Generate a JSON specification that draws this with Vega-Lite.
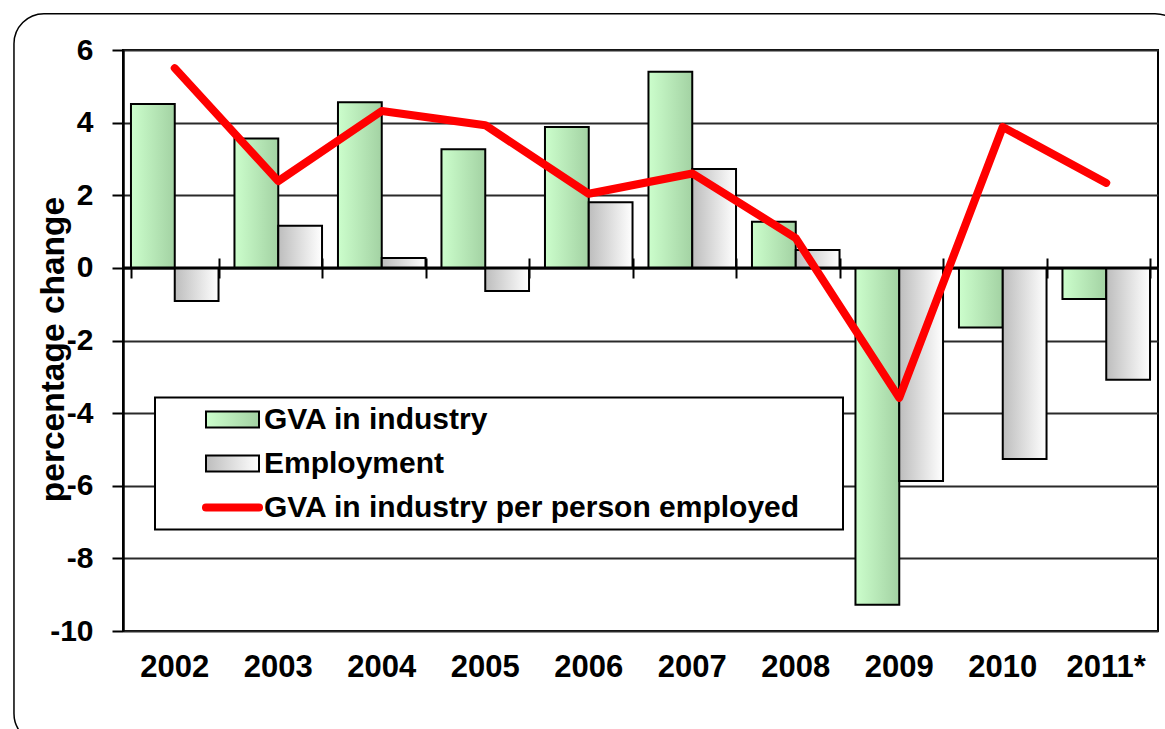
{
  "$schema": "https://vega.github.io/schema/vega-lite/v6.json",
  "width": 1035,
  "height": 581,
  "autosize": {"type": "none"},
  "padding": {"left": 123, "top": 50, "right": 7, "bottom": 98},
  "background": "white",
  "config": {
    "view": {"stroke": "black", "strokeWidth": 2},
    "font": "Liberation Sans"
  },
  "data": {
    "values": [
      {"year": "2002", "series": "GVA in industry", "value": 4.51},
      {"year": "2003", "series": "GVA in industry", "value": 3.56},
      {"year": "2004", "series": "GVA in industry", "value": 4.56},
      {"year": "2005", "series": "GVA in industry", "value": 3.27},
      {"year": "2006", "series": "GVA in industry", "value": 3.88},
      {"year": "2007", "series": "GVA in industry", "value": 5.4},
      {"year": "2008", "series": "GVA in industry", "value": 1.27},
      {"year": "2009", "series": "GVA in industry", "value": -9.28},
      {"year": "2010", "series": "GVA in industry", "value": -1.64},
      {"year": "2011*", "series": "GVA in industry", "value": -0.86},
      {"year": "2002", "series": "Employment", "value": -0.91},
      {"year": "2003", "series": "Employment", "value": 1.16},
      {"year": "2004", "series": "Employment", "value": 0.27},
      {"year": "2005", "series": "Employment", "value": -0.64},
      {"year": "2006", "series": "Employment", "value": 1.81},
      {"year": "2007", "series": "Employment", "value": 2.72},
      {"year": "2008", "series": "Employment", "value": 0.49},
      {"year": "2009", "series": "Employment", "value": -5.87},
      {"year": "2010", "series": "Employment", "value": -5.26},
      {"year": "2011*", "series": "Employment", "value": -3.08},
      {"year": "2002", "series": "GVA in industry per person employed", "value": 5.5},
      {"year": "2003", "series": "GVA in industry per person employed", "value": 2.39},
      {"year": "2004", "series": "GVA in industry per person employed", "value": 4.32},
      {"year": "2005", "series": "GVA in industry per person employed", "value": 3.93},
      {"year": "2006", "series": "GVA in industry per person employed", "value": 2.04},
      {"year": "2007", "series": "GVA in industry per person employed", "value": 2.6},
      {"year": "2008", "series": "GVA in industry per person employed", "value": 0.82},
      {"year": "2009", "series": "GVA in industry per person employed", "value": -3.58},
      {"year": "2010", "series": "GVA in industry per person employed", "value": 3.88},
      {"year": "2011*", "series": "GVA in industry per person employed", "value": 2.34}
    ]
  },
  "resolve": {"axis": {"x": "independent"}},
  "layer": [
    {
      "data": {"values": [{"frame": 1}]},
      "mark": {"type": "rect", "filled": false, "color": "black", "strokeWidth": 1.5, "cornerRadius": 30, "xOffset": -117, "x2Offset": 35, "clip": false},
      "encoding": {
        "x": {"datum": "2002", "type": "nominal", "bandPosition": 0, "axis": null},
        "x2": {"datum": "2011*", "bandPosition": 1},
        "y": {"datum": 7, "type": "quantitative", "scale": {"domain": [-10, 6], "nice": false}, "title": "percentage change"},
        "y2": {"datum": -13.1}
      }
    },
    {
      "transform": [{"filter": "datum.series === 'GVA in industry'"}],
      "mark": {
        "type": "bar",
        "fill": {"gradient": "linear", "x1": 0, "y1": 0, "x2": 1, "y2": 0, "stops": [{"offset": 0, "color": "#ccfecc"}, {"offset": 1, "color": "#a3d2a3"}]},
        "stroke": "black",
        "strokeWidth": 2
      },
      "encoding": {
        "x": {
          "field": "year", "type": "nominal", "sort": null,
          "scale": {"domain": ["2002", "2003", "2004", "2005", "2006", "2007", "2008", "2009", "2010", "2011*"], "paddingInner": 0.154, "paddingOuter": 0.077},
          "axis": {"title": null, "labels": true, "ticks": false, "tickSize": 0, "domain": false, "grid": false, "labelAngle": 0, "labelFont": "Liberation Sans", "labelFontSize": 31, "labelFontWeight": "bold", "labelColor": "black", "labelPadding": 36, "labelBaseline": "middle"}
        },
        "xOffset": {"field": "series", "scale": {"domain": ["GVA in industry", "Employment"], "paddingInner": 0, "paddingOuter": 0}},
        "y": {
          "field": "value", "type": "quantitative", "title": "percentage change",
          "scale": {"domain": [-10, 6], "nice": false},
          "axis": {
            "values": [-10, -8, -6, -4, -2, 0, 2, 4, 6],
            "labelExpr": "'' + datum.value",
            "tickSize": 11, "tickWidth": 2, "tickColor": "black",
            "domainColor": "black", "domainWidth": 2.5,
            "grid": true, "gridColor": "#2a2a2a", "gridWidth": 2,
            "labelFont": "Liberation Sans", "labelFontSize": 30, "labelFontWeight": "bold", "labelColor": "black", "labelPadding": 19,
            "titleFont": "Liberation Sans", "titleFontSize": 33.5, "titleFontWeight": "bold", "titleColor": "black",
            "titleX": -60, "titleY": 299, "titleBaseline": "alphabetic", "titleAngle": 270, "titleAlign": "center"
          }
        }
      }
    },
    {
      "transform": [{"filter": "datum.series === 'Employment'"}],
      "mark": {
        "type": "bar",
        "fill": {"gradient": "linear", "x1": 0, "y1": 0, "x2": 1, "y2": 0, "stops": [{"offset": 0, "color": "#bdbdbd"}, {"offset": 1, "color": "#ffffff"}]},
        "stroke": "black",
        "strokeWidth": 2
      },
      "encoding": {
        "x": {
          "field": "year", "type": "nominal", "sort": null,
          "axis": {"title": null, "orient": "bottom", "labels": false, "ticks": true, "tickBand": "extent", "tickSize": 20, "tickWidth": 2, "tickColor": "black", "domain": false, "grid": false, "offset": -373}
        },
        "xOffset": {"field": "series"},
        "y": {"field": "value", "type": "quantitative", "title": "percentage change"}
      }
    },
    {
      "data": {"values": [{"zero": 0}]},
      "mark": {"type": "rule", "color": "black", "strokeWidth": 3},
      "encoding": {"y": {"datum": 0, "type": "quantitative", "title": "percentage change"}}
    },
    {
      "transform": [{"filter": "datum.series === 'GVA in industry per person employed'"}],
      "mark": {"type": "line", "strokeWidth": 8, "strokeCap": "round", "strokeJoin": "round"},
      "encoding": {
        "x": {"field": "year", "type": "nominal", "sort": null, "axis": null},
        "y": {"field": "value", "type": "quantitative", "title": "percentage change"},
        "color": {
          "field": "series", "type": "nominal",
          "scale": {"domain": ["GVA in industry", "Employment", "GVA in industry per person employed"], "range": ["#000000", "#000000", "#ff0000"]},
          "legend": {
            "title": "x", "titleOrient": "right", "titleColor": "transparent", "titleFontSize": 30, "titlePadding": 26,
            "orient": "none", "legendX": 32, "legendY": 347.5, "direction": "vertical",
            "fillColor": "white", "strokeColor": "black", "padding": 0,
            "labelFont": "Liberation Sans", "labelFontSize": 30, "labelFontWeight": "bold", "labelColor": "black", "labelLimit": 2000,
            "symbolSize": 2809, "symbolType": "stroke", "symbolStrokeWidth": 8,
            "clipHeight": 44, "rowPadding": 0,
            "symbolOffset": 62.5, "labelOffset": 16.5,
            "encode": {
              "symbols": {
                "update": {
                  "shape": {"signal": "datum.value === 'GVA in industry per person employed' ? 'stroke' : 'M-1,-0.3H1V0.3H-1Z'"},
                  "fill": {"signal": "datum.value === 'GVA in industry' ? {gradient: 'linear', x1: 0, y1: 0, x2: 1, y2: 0, stops: [{offset: 0, color: '#ccfecc'}, {offset: 1, color: '#a3d2a3'}]} : (datum.value === 'Employment' ? {gradient: 'linear', x1: 0, y1: 0, x2: 1, y2: 0, stops: [{offset: 0, color: '#bdbdbd'}, {offset: 1, color: '#ffffff'}]} : 'transparent')"},
                  "stroke": {"signal": "datum.value === 'GVA in industry per person employed' ? '#ff0000' : '#000000'"},
                  "strokeWidth": {"signal": "datum.value === 'GVA in industry per person employed' ? 8 : 2"},
                  "strokeOpacity": {"value": 1},
                  "fillOpacity": {"value": 1},
                  "strokeCap": {"value": "round"},
                  "opacity": {"value": 1}
                }
              },
              "legend": {"update": {"strokeWidth": {"value": 2}}}
            }
          }
        }
      }
    }
  ]
}
